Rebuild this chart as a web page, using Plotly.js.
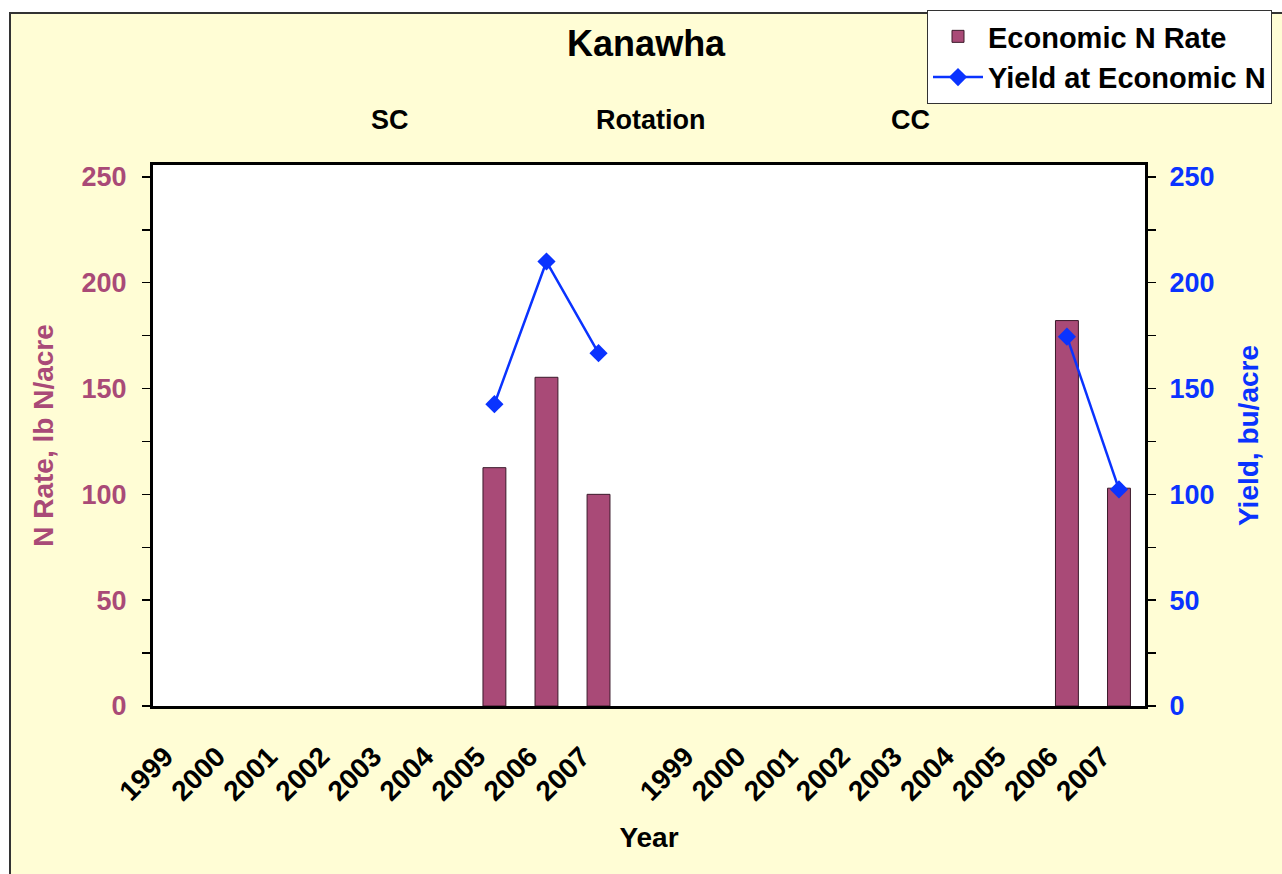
<!DOCTYPE html>
<html>
<head>
<meta charset="utf-8">
<script src="https://cdn.plot.ly/plotly-3.0.1.min.js"></script>
<style>
  html, body { margin: 0; padding: 0; background: #ffffff; }
  #wrap { position: relative; width: 1282px; height: 874px; overflow: hidden; background: #ffffff; }
  #frame { position: absolute; left: 9px; top: 12px; width: 1300px; height: 900px;
           background: #FFFDD5; border-left: 2px solid #333; border-top: 2px solid #333; }
  #chart { position: absolute; left: 0; top: 0; width: 1282px; height: 874px; }
</style>
</head>
<body>
<div id="wrap"><div id="frame"></div><div id="chart"></div></div>
<script>
// ---- data ----
const scYears = ['1999','2000','2001','2002','2003','2004','2005','2006','2007'];
const ccYears = ['1999','2000','2001','2002','2003','2004','2005','2006','2007'];
const groupLabels = ['SC', 'Rotation', 'CC'];
const categories = [
  'SC 1999','SC 2000','SC 2001','SC 2002','SC 2003','SC 2004','SC 2005','SC 2006','SC 2007',
  'Rotation',
  'CC 1999','CC 2000','CC 2001','CC 2002','CC 2003','CC 2004','CC 2005','CC 2006','CC 2007'
];
const tickLabels = [...scYears, '', ...ccYears];
const economicNRate = [null,null,null,null,null,null,112.6,155.3,100.0, null, null,null,null,null,null,null,null,182.1,102.9];
const yieldAtEconN  = [null,null,null,null,null,null,142.6,210.0,166.7, null, null,null,null,null,null,null,null,174.5,102.3];
const yTicks = [0, 50, 100, 150, 200, 250];

// ---- style ----
const FONT = 'Liberation Sans, Arial, sans-serif';
const PLUM = '#A94A77';
const BLUE = '#0A33FF';

const traces = [
  {
    type: 'bar', name: 'Economic N Rate', x: categories, y: economicNRate,
    marker: { color: PLUM, line: { color: '#3B1A2B', width: 1 } },
    legendgroup: 'a', hoverinfo: 'skip'
  },
  {
    type: 'scatter', mode: 'lines+markers', name: 'Yield at Economic N',
    x: categories, y: yieldAtEconN, yaxis: 'y2', connectgaps: false,
    line: { color: BLUE, width: 2.5 },
    marker: { symbol: 'diamond', size: 14, color: BLUE },
    legendgroup: 'b', hoverinfo: 'skip'
  }
];

// group labels placed at the middle category of each group
const groupCenters = [categories[4], categories[9], categories[14]];
const annotations = groupLabels.map((t, i) => ({
  text: t, x: groupCenters[i], xref: 'x', y: 1.083, yref: 'paper',
  yanchor: 'middle', xanchor: 'center', showarrow: false,
  font: { family: FONT, size: 27, color: '#000', weight: 'bold' }
}));

const yRange = [0, 255.6];

const layout = {
  width: 1282, height: 874, autosize: false,
  paper_bgcolor: 'rgba(0,0,0,0)', plot_bgcolor: '#ffffff',
  margin: { l: 153, r: 137, t: 165, b: 168, pad: 0, autoexpand: false },
  bargap: 0.56,
  title: {
    text: 'Kanawha', x: 0.504, xref: 'container', xanchor: 'center',
    y: 1 - 43 / 874, yref: 'container', yanchor: 'middle',
    font: { family: FONT, size: 36, color: '#000', weight: 'bold' }
  },
  xaxis: {
    type: 'category', categoryorder: 'array', categoryarray: categories,
    tickvals: categories, ticktext: tickLabels, tickangle: -45,
    range: [-0.56, 18.5],
    tickfont: { family: FONT, size: 28, color: '#000', weight: 'bold' },
    ticks: '', ticklabelshift: -17, ticklabelstandoff: 20,
    showline: true, linecolor: '#000', linewidth: 3, mirror: true,
    showgrid: false, zeroline: false,
    title: { text: 'Year', standoff: 22, font: { family: FONT, size: 28, color: '#000', weight: 'bold' } }
  },
  yaxis: {
    range: yRange, tickvals: yTicks,
    ticks: 'outside', ticklen: 8, tickcolor: '#000', tickwidth: 1.5,
    minor: { dtick: 25, ticks: 'outside', ticklen: 8, tickcolor: '#000', tickwidth: 1.5, showgrid: false },
    ticklabelstandoff: 10,
    tickfont: { family: FONT, size: 27, color: PLUM, weight: 'bold' },
    showline: true, linecolor: '#000', linewidth: 3, mirror: true,
    showgrid: false, zeroline: false,
    title: { text: 'N Rate, lb N/acre', standoff: 20, font: { family: FONT, size: 28, color: PLUM, weight: 'bold' } }
  },
  yaxis2: {
    overlaying: 'y', side: 'right', range: yRange, tickvals: yTicks,
    ticks: 'outside', ticklen: 8, tickcolor: '#000', tickwidth: 1.5,
    minor: { dtick: 25, ticks: 'outside', ticklen: 8, tickcolor: '#000', tickwidth: 1.5, showgrid: false },
    ticklabelstandoff: 8,
    tickfont: { family: FONT, size: 27, color: BLUE, weight: 'bold' },
    showline: true, linecolor: '#000', linewidth: 3,
    showgrid: false, zeroline: false,
    title: { text: 'Yield, bu/acre', standoff: 25, font: { family: FONT, size: 28, color: BLUE, weight: 'bold' } }
  },
  legend: {
    x: (927 - 153) / 992, xanchor: 'left', y: (706 - 10) / 541, yanchor: 'top',
    bgcolor: '#ffffff', bordercolor: '#333', borderwidth: 1,
    font: { family: FONT, size: 29, color: '#000', weight: 'bold' },
    itemwidth: 50, traceorder: 'grouped', tracegroupgap: 0
  },
  showlegend: true,
  annotations: annotations
};

Plotly.newPlot('chart', traces, layout, { displayModeBar: false, staticPlot: true });
</script>
</body>
</html>
